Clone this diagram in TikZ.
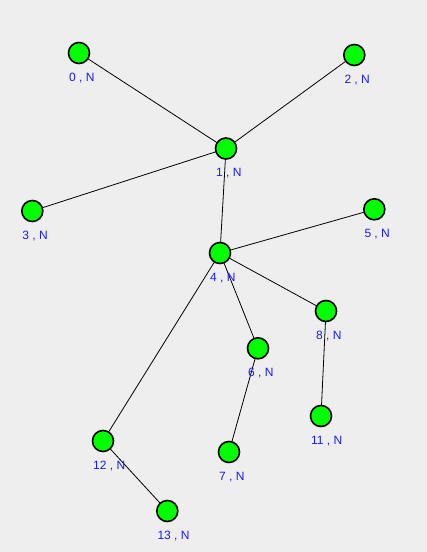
\documentclass[tikz,border=0pt]{standalone}
\usepackage{fontspec}
\setmainfont{Liberation Sans}
\definecolor{bg}{HTML}{EEEEEE}
\definecolor{nodegreen}{HTML}{00FF00}
\definecolor{lblblue}{HTML}{1A1AFF}
\begin{document}
\begin{tikzpicture}[x=1pt,y=-1pt,
  vertex/.style={circle,draw=black,line width=1.6pt,fill=nodegreen,minimum size=21pt,inner sep=0pt},
  lbl/.style={anchor=base west,inner sep=0pt,text=lblblue,font=\fontsize{12}{12}\selectfont},
  edge/.style={draw=black,line width=0.8pt}]
\fill[bg] (0,0) rectangle (427,552);
\useasboundingbox (0,0) rectangle (427,552);
\foreach \n/\x/\y in {0/79/53,1/226/148.5,2/354.3/55,3/32.3/211,4/220/253,5/374.3/209.3,6/258/348.3,7/229/452,8/326/311,11/321/416,12/103/441,13/167.3/511}{
  \coordinate (c\n) at (\x,\y);
}
\foreach \a/\b in {0/1,2/1,1/3,1/4,4/5,4/8,4/6,4/12,8/11,6/7,12/13}{
  \draw[edge] (c\a) -- (c\b);
}
\foreach \n in {0,1,2,3,4,5,6,7,8,11,12,13}{
  \node[vertex] (n\n) at (c\n) {};
  \node[lbl] (l\n) at ([xshift=-10pt,yshift=-28pt]c\n) {\n\ ,\ N};
}
\end{tikzpicture}
\end{document}
